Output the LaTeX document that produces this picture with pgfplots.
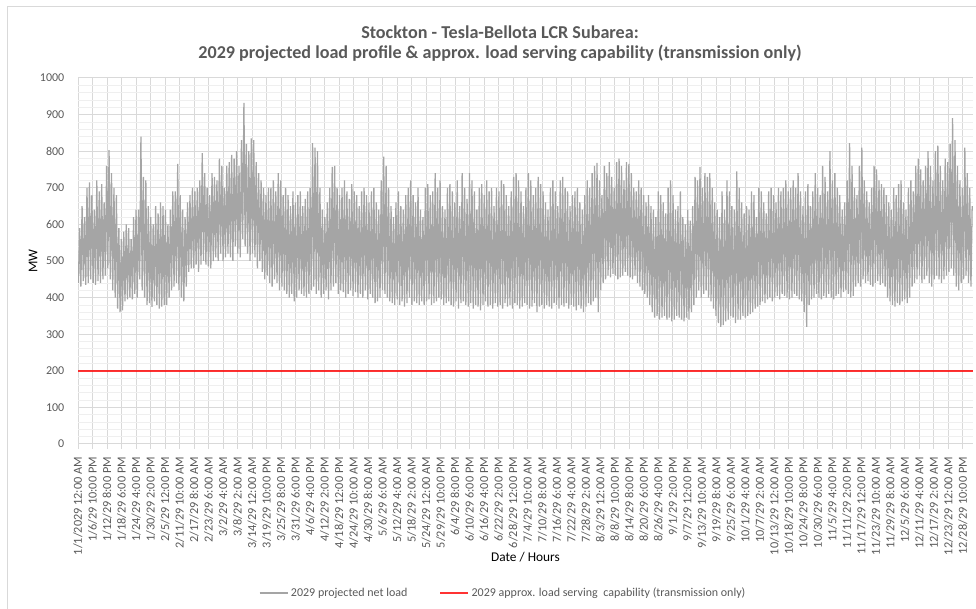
\documentclass[border=0pt]{standalone}
\usepackage{fontspec}
\setmainfont{Carlito}
\usepackage{pgfplots}
\pgfplotsset{compat=1.18}
\usepackage{pgfplotstable}
\definecolor{txt}{HTML}{595959}
\definecolor{gridmaj}{HTML}{D9D9D9}
\definecolor{gridmin}{HTML}{EFEFEF}
\definecolor{loadgray}{HTML}{A5A5A5}
\definecolor{capred}{HTML}{FF0000}
% daily trough / peak of the 2029 projected net load (MW), Jan 1 .. Dec 31
\pgfplotstableread[row sep=\\]{
y\\
440\\590\\ 430\\650\\ 445\\620\\ 435\\700\\ 440\\715\\ 450\\680\\ 440\\640\\
435\\720\\ 445\\690\\ 440\\710\\ 450\\660\\ 460\\760\\ 480\\803\\ 450\\740\\
420\\700\\ 400\\680\\ 370\\590\\ 360\\560\\ 365\\580\\ 390\\600\\ 395\\590\\
400\\560\\ 395\\620\\ 410\\640\\ 400\\640\\ 450\\840\\ 420\\730\\ 400\\720\\
380\\650\\ 385\\620\\ 375\\600\\ 390\\650\\ 380\\630\\ 370\\660\\ 375\\650\\
380\\640\\ 380\\600\\ 400\\640\\ 420\\690\\ 430\\690\\ 440\\765\\ 420\\680\\
400\\640\\ 390\\620\\ 430\\660\\ 470\\680\\ 480\\700\\ 480\\690\\ 490\\700\\
470\\720\\ 490\\795\\ 500\\740\\ 490\\700\\ 485\\680\\ 480\\740\\ 500\\730\\
510\\720\\ 500\\780\\ 520\\760\\ 500\\700\\ 510\\760\\ 520\\770\\ 510\\790\\
500\\780\\ 540\\800\\ 520\\760\\ 510\\830\\ 560\\932\\ 540\\820\\ 520\\800\\
500\\835\\ 520\\830\\ 510\\770\\ 480\\740\\ 500\\720\\ 470\\700\\ 450\\680\\
460\\700\\ 440\\700\\ 430\\720\\ 450\\690\\ 440\\740\\ 420\\720\\ 430\\680\\
420\\700\\ 410\\680\\ 400\\650\\ 410\\690\\ 390\\660\\ 400\\680\\ 420\\690\\
410\\650\\ 405\\670\\ 400\\690\\ 410\\700\\ 420\\822\\ 430\\810\\ 410\\800\\
420\\700\\ 400\\640\\ 410\\620\\ 420\\660\\ 395\\700\\ 420\\757\\ 430\\760\\
440\\700\\ 410\\680\\ 420\\700\\ 415\\720\\ 400\\690\\ 410\\670\\ 420\\710\\
405\\690\\ 415\\680\\ 400\\650\\ 410\\690\\ 400\\700\\ 420\\680\\ 395\\660\\
410\\690\\ 400\\700\\ 385\\660\\ 390\\640\\ 400\\720\\ 420\\785\\ 410\\760\\
400\\700\\ 390\\650\\ 385\\620\\ 380\\660\\ 395\\690\\ 380\\650\\ 390\\640\\
375\\680\\ 385\\700\\ 400\\720\\ 380\\680\\ 390\\660\\ 385\\700\\ 380\\640\\
390\\620\\ 380\\700\\ 390\\710\\ 395\\680\\ 380\\690\\ 385\\740\\ 390\\700\\
400\\720\\ 395\\650\\ 380\\640\\ 385\\700\\ 390\\710\\ 380\\690\\ 375\\660\\
390\\720\\ 370\\650\\ 385\\740\\ 390\\700\\ 380\\670\\ 375\\740\\ 385\\720\\
370\\690\\ 380\\640\\ 375\\700\\ 365\\710\\ 380\\680\\ 390\\720\\ 375\\690\\
380\\700\\ 370\\650\\ 385\\700\\ 375\\690\\ 380\\720\\ 370\\710\\ 385\\680\\
375\\650\\ 380\\690\\ 370\\730\\ 385\\740\\ 380\\720\\ 370\\690\\ 375\\650\\
385\\700\\ 380\\740\\ 370\\720\\ 375\\680\\ 385\\700\\ 360\\730\\ 375\\710\\
380\\690\\ 370\\660\\ 380\\640\\ 375\\700\\ 370\\720\\ 385\\690\\ 380\\650\\
370\\720\\ 380\\730\\ 375\\700\\ 385\\690\\ 370\\650\\ 380\\680\\ 375\\690\\
365\\700\\ 380\\660\\ 370\\640\\ 360\\680\\ 375\\720\\ 385\\700\\ 380\\740\\
390\\760\\ 400\\768\\ 360\\720\\ 420\\680\\ 440\\760\\ 450\\740\\ 460\\770\\
455\\730\\ 465\\700\\ 460\\770\\ 450\\780\\ 455\\760\\ 460\\720\\ 470\\770\\
460\\765\\ 455\\740\\ 450\\700\\ 460\\690\\ 440\\720\\ 430\\700\\ 420\\680\\
410\\660\\ 400\\680\\ 380\\650\\ 360\\640\\ 345\\620\\ 350\\690\\ 340\\680\\
345\\660\\ 350\\630\\ 340\\700\\ 345\\720\\ 335\\680\\ 340\\640\\ 350\\650\\
345\\690\\ 340\\620\\ 335\\600\\ 345\\640\\ 340\\610\\ 360\\650\\ 380\\730\\
400\\720\\ 420\\757\\ 400\\700\\ 410\\740\\ 420\\730\\ 400\\740\\ 390\\700\\
370\\660\\ 350\\640\\ 330\\620\\ 320\\690\\ 325\\640\\ 335\\720\\ 340\\690\\
350\\650\\ 345\\640\\ 330\\745\\ 340\\700\\ 340\\660\\ 350\\630\\ 345\\650\\
350\\640\\ 355\\690\\ 360\\680\\ 370\\620\\ 375\\700\\ 380\\690\\ 390\\660\\
385\\630\\ 395\\690\\ 400\\700\\ 390\\680\\ 400\\660\\ 405\\700\\ 395\\690\\
410\\700\\ 405\\720\\ 400\\690\\ 395\\700\\ 400\\720\\ 410\\700\\ 405\\740\\
395\\690\\ 390\\650\\ 360\\690\\ 320\\710\\ 380\\650\\ 395\\690\\ 400\\740\\
410\\700\\ 400\\680\\ 395\\760\\ 405\\730\\ 400\\690\\ 410\\800\\ 400\\720\\
395\\740\\ 405\\700\\ 410\\680\\ 400\\640\\ 415\\660\\ 420\\720\\ 410\\822\\
400\\760\\ 405\\700\\ 430\\680\\ 440\\760\\ 430\\810\\ 450\\720\\ 440\\690\\
445\\660\\ 435\\700\\ 430\\760\\ 440\\750\\ 445\\720\\ 435\\710\\ 440\\700\\
430\\680\\ 400\\660\\ 390\\640\\ 380\\700\\ 375\\680\\ 385\\710\\ 380\\720\\
390\\660\\ 395\\640\\ 385\\700\\ 400\\720\\ 430\\690\\ 440\\760\\ 450\\780\\
460\\750\\ 440\\720\\ 450\\760\\ 460\\800\\ 440\\760\\ 430\\720\\ 450\\800\\
460\\815\\ 450\\760\\ 440\\720\\ 450\\780\\ 460\\770\\ 470\\820\\ 480\\890\\
460\\830\\ 430\\760\\ 420\\720\\ 440\\700\\ 450\\810\\ 460\\740\\ 440\\700\\
430\\650\\
}\loaddata
\begin{document}
\begin{tikzpicture}
\useasboundingbox (0,0) rectangle (732pt,456.75pt);
\draw[gridmaj, line width=0.75pt] (5.25pt,0pt) -- (5.25pt,451.5pt) -- (732pt,451.5pt);
\node[align=center, font=\bfseries\fontsize{13.6}{15}\selectfont, text=txt] at (375pt,424pt)
  {Stockton - Tesla-Bellota LCR Subarea:\\2029 projected load profile \& approx. load serving capability (transmission only)};
\begin{axis}[
  at={(58.5pt,123.75pt)}, anchor=south west,
  scale only axis, width=671.25pt, height=274.5pt,
  xmin=0, xmax=8760, ymin=0, ymax=1000,
  ytick={0,100,...,1000},
  minor y tick num=4,
  xtick={0,142,...,8662},
  xticklabels={1/1/2029 12:00 AM,1/6/29 10:00 PM,1/12/29 8:00 PM,1/18/29 6:00 PM,1/24/29 4:00 PM,1/30/29 2:00 PM,2/5/29 12:00 PM,2/11/29 10:00 AM,2/17/29 8:00 AM,2/23/29 6:00 AM,3/2/29 4:00 AM,3/8/29 2:00 AM,3/14/29 12:00 AM,3/19/29 10:00 PM,3/25/29 8:00 PM,3/31/29 6:00 PM,4/6/29 4:00 PM,4/12/29 2:00 PM,4/18/29 12:00 PM,4/24/29 10:00 AM,4/30/29 8:00 AM,5/6/29 6:00 AM,5/12/29 4:00 AM,5/18/29 2:00 AM,5/24/29 12:00 AM,5/29/29 10:00 PM,6/4/29 8:00 PM,6/10/29 6:00 PM,6/16/29 4:00 PM,6/22/29 2:00 PM,6/28/29 12:00 PM,7/4/29 10:00 AM,7/10/29 8:00 AM,7/16/29 6:00 AM,7/22/29 4:00 AM,7/28/29 2:00 AM,8/3/29 12:00 AM,8/8/29 10:00 PM,8/14/29 8:00 PM,8/20/29 6:00 PM,8/26/29 4:00 PM,9/1/29 2:00 PM,9/7/29 12:00 PM,9/13/29 10:00 AM,9/19/29 8:00 AM,9/25/29 6:00 AM,10/1/29 4:00 AM,10/7/29 2:00 AM,10/13/29 12:00 AM,10/18/29 10:00 PM,10/24/29 8:00 PM,10/30/29 6:00 PM,11/5/29 4:00 PM,11/11/29 2:00 PM,11/17/29 12:00 PM,11/23/29 10:00 AM,11/29/29 8:00 AM,12/5/29 6:00 AM,12/11/29 4:00 AM,12/17/29 2:00 AM,12/23/29 12:00 AM,12/28/29 10:00 PM},
  x tick label style={rotate=90, anchor=east, font=\fontsize{9.2}{10}\selectfont, text=txt},
  y tick label style={font=\fontsize{9}{10}\selectfont, text=txt, /pgf/number format/1000 sep={}},
  xticklabel shift=2.5pt, yticklabel shift=3pt,
  /pgf/number format/assume math mode=true,
  scaled y ticks=false,
  axis x line*=bottom, axis y line*=left,
  x axis line style={gridmaj, line width=0.75pt, -},
  y axis line style={draw=none},
  xtick style={gridmaj, line width=0.75pt},
  ytick style={draw=none},
  tick align=outside, major tick length=3.75pt, minor tick length=0pt,
  xmajorgrids, ymajorgrids, yminorgrids,
  major grid style={gridmaj, line width=0.75pt},
  minor grid style={gridmin, line width=0.6pt},
  xlabel={Date / Hours}, ylabel={MW},
  label style={font=\fontsize{10}{12}\selectfont, text=txt},
  every axis x label/.style={at={(axis description cs:0.5,-0.309)}, anchor=center},
  every axis y label/.style={at={(axis description cs:-0.0503,0.5)}, rotate=90, anchor=center},
  legend style={at={(axis description cs:0.4755,-0.407)}, anchor=center, draw=none, fill=none,
    font=\fontsize{9}{10}\selectfont, text=txt, legend columns=2,
    /tikz/every even column/.style={column sep=22pt}},
  legend image code/.code={\draw[#1] (0pt,0pt) -- (21pt,0pt);},
]
\addplot[loadgray, line width=0.95pt, line join=bevel] table[x expr=\coordindex*12+4, y=y] {\loaddata};
\addlegendentry{2029 projected net load}
\addplot[capred, line width=1.1pt, opacity=0.8] coordinates {(0,200) (8760,200)};
\addlegendentry{2029 approx. load serving\ \ capability (transmission only)}
\end{axis}
\end{tikzpicture}
\end{document}
